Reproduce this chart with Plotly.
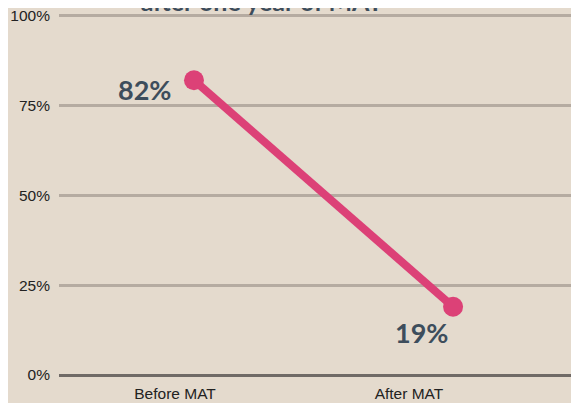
import plotly.graph_objects as go

categories = ["Before MAT", "After MAT"]
values = [82, 19]
labels = ["82%", "19%"]
tick_vals = [0, 25, 50, 75, 100]
tick_text = ["0%", "25%", "50%", "75%", "100%"]

bg = "#e4dacd"
line_color = "#dc4177"
text_color = "#3d4d5c"

fig = go.Figure()
fig.add_trace(go.Scatter(
    x=categories, y=values, mode="lines+markers",
    line=dict(color=line_color, width=8),
    marker=dict(color=line_color, size=20),
    hoverinfo="skip", showlegend=False,
))
# invisible trace carrying the category tick labels
fig.add_trace(go.Scatter(
    x=categories, y=[None, None], xaxis="x2", mode="markers",
    hoverinfo="skip", showlegend=False,
))

shifts = [(-49, -9), (-32, -26)]
for c, v, t, (dx, dy) in zip(categories, values, labels, shifts):
    fig.add_annotation(x=c, y=v, text=t, showarrow=False, xshift=dx, yshift=dy,
                       font=dict(family="Lato", size=27, color=text_color, weight="bold"))

fig.add_annotation(xref="paper", yref="paper", x=0.383, y=1.0, yshift=-6,
                   yanchor="bottom", xanchor="center", showarrow=False,
                   text="Percentage of patients using opioids<br>after one year of MAT",
                   font=dict(family="Lato", size=25, color=text_color, weight="bold"))

tickfont = dict(family="Liberation Sans", size=15.5, color="#222222")
fig.update_layout(
    width=579, height=403,
    paper_bgcolor=bg, plot_bgcolor=bg,
    margin=dict(l=51, r=0, t=4, b=36),
    xaxis=dict(type="category", range=[-0.521, 1.517], showgrid=False, showline=False,
               showticklabels=False, ticks=""),
    xaxis2=dict(type="category", overlaying="x", side="bottom", range=[-0.496, 1.761],
                showgrid=False, showline=False, zeroline=False, ticks="",
                ticklabelstandoff=7, tickfont=tickfont),
    yaxis=dict(range=[0, 101], tickvals=tick_vals, ticktext=tick_text,
               showgrid=True, gridcolor="#b5aba1", gridwidth=2.5,
               zeroline=True, zerolinecolor="#706a66", zerolinewidth=3,
               showline=False, ticks="", ticklabelstandoff=8,
               ticklabeloverflow="allow", tickfont=tickfont),
)

fig.write_html("out.html")
